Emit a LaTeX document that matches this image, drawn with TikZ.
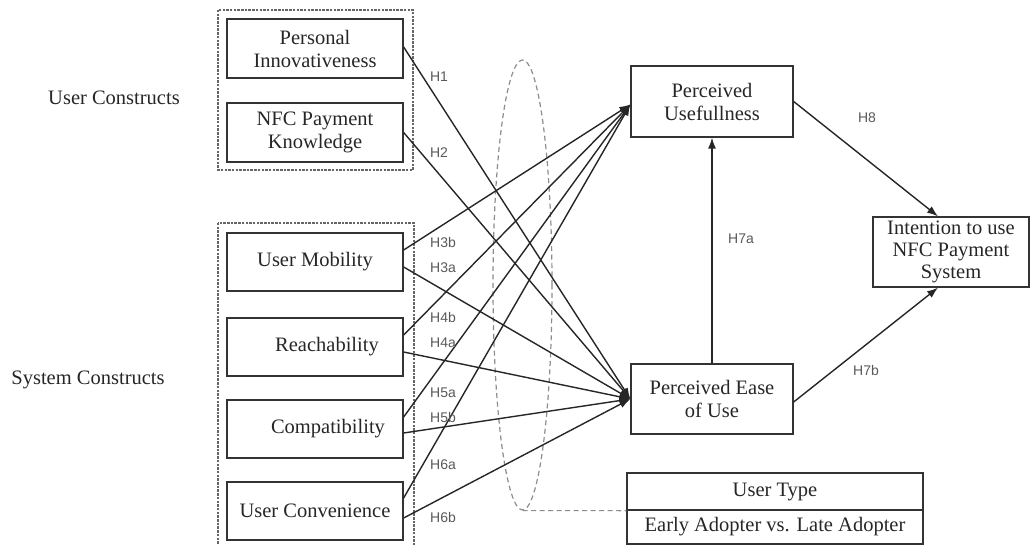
\documentclass[tikz,border=0pt]{standalone}
\usepackage{fontspec}
\setmainfont{Liberation Serif}
\newfontfamily\hfont{Liberation Sans}
\usetikzlibrary{shapes.geometric,arrows.meta,calc}
\begin{document}
\begin{tikzpicture}[x=1pt,y=-1pt,
  box/.style={draw=black!80, line width=1.3pt, minimum width=176pt, minimum height=58pt,
    align=center, inner sep=1pt, font=\fontsize{20.5}{23}\selectfont, text=black!85},
  hl/.style={font=\hfont\fontsize{14}{16}\selectfont, text=black!65},
  arr/.style={line width=1.4pt, draw=black!85, -{Latex[length=11pt,width=8pt]}},
  grp/.style={draw=black!60, line width=1.1pt, dash pattern=on 2.5pt off 1.2pt},
  lbl/.style={font=\fontsize{20.5}{23}\selectfont, text=black!85}]
\useasboundingbox (0,0) rectangle (1030,545);

% group frames
\draw[grp] (218,10) rectangle (413,170);
\begin{scope}
\clip (0,0) rectangle (1030,545);
\draw[grp] (218,223) rectangle (414,560);
\end{scope}

% side labels
\node[lbl] (uc) at (114,98) {User Constructs};
\node[lbl] (sc) at (88,380) {System Constructs};

% source boxes
\node[box, minimum height=59pt] (pi) at (315,48.5) {Personal\\Innovativeness};
\node[box, minimum height=59pt] (nfc) at (315,132.5) {NFC Payment\\Knowledge};
\node[box] (um) at (315,262) {User Mobility};
\node[box] (re) at (315,347) {\hspace*{24pt}Reachability};
\node[box] (co) at (315,429) {\hspace*{26pt}Compatibility};
\node[box] (ucv) at (315,511) {User Convenience};

% target boxes
\node[box, minimum width=162pt, minimum height=71pt] (pu) at (712,101.5) {Perceived\\Usefullness};
\node[box, minimum width=162pt, minimum height=70pt] (pe) at (712,399) {Perceived Ease\\of Use};
\node[box, minimum width=156pt, minimum height=70pt, inner sep=0pt,
  font=\fontsize{20.5}{22}\selectfont] (it) at (951,252) {Intention to use\\NFC Payment\\System};
\node[box, minimum width=296pt, minimum height=37pt] (ut1) at (775,491.5) {User Type};
\node[box, minimum width=296pt, minimum height=34pt] (ut2) at (775,527) {Early Adopter vs. Late Adopter};

% moderator ellipse
\node[ellipse, draw=black!45, line width=1.2pt, dash pattern=on 5pt off 3.5pt,
  minimum width=59pt, minimum height=450pt, inner sep=0pt] (el) at (522.5,285) {};
\draw[draw=black!45, line width=1.2pt, dash pattern=on 5pt off 3.5pt] (el.south) -- (ut1.south west);

% paths to PEOU
\draw[arr] ([yshift=1.5pt]pi.east) -- (pe.west);
\draw[arr] (nfc.east) -- (pe.west);
\draw[arr] ([yshift=-5pt]um.east) -- (pe.west);
\draw[arr] ([yshift=-5pt]re.east) -- (pe.west);
\draw[arr] ([yshift=-4pt]co.east) -- (pe.west);
\draw[arr] ([yshift=-7pt]ucv.east) -- (pe.west);
% paths to PU
\draw[arr] ([yshift=12pt]um.east) -- ([yshift=-3pt]pu.west);
\draw[arr] ([yshift=12pt]re.east) -- ([yshift=-3pt]pu.west);
\draw[arr] ([yshift=12pt]co.east) -- ([yshift=-3pt]pu.west);
\draw[arr] ([yshift=13pt]ucv.east) -- ([yshift=-3pt]pu.west);
% structural paths
\draw[arr] (pe.north) -- (pu.south);
\coordinate (itT) at ($(it.north)+(-13,0)$);
\coordinate (itB) at ($(it.south)+(-13,0)$);
\draw[arr] (pu.east) -- (itT);
\draw[arr] ([yshift=-3pt]pe.east) -- (itB);

% hypothesis labels
\node[hl] (h1) at (439,77) {H1};
\node[hl] (h2) at (439,153) {H2};
\node[hl] (h3b) at (443,242) {H3b};
\node[hl] (h3a) at (443,268) {H3a};
\node[hl] (h4b) at (443,317) {H4b};
\node[hl] (h4a) at (443,343) {H4a};
\node[hl] (h5a) at (443,393) {H5a};
\node[hl] (h5b) at (443,417) {H5b};
\node[hl] (h6a) at (443,465) {H6a};
\node[hl] (h6b) at (443,517) {H6b};
\node[hl] (h8) at (867,118) {H8};
\node[hl] (h7a) at (741,239) {H7a};
\node[hl] (h7b) at (866,370) {H7b};
\end{tikzpicture}
\end{document}
